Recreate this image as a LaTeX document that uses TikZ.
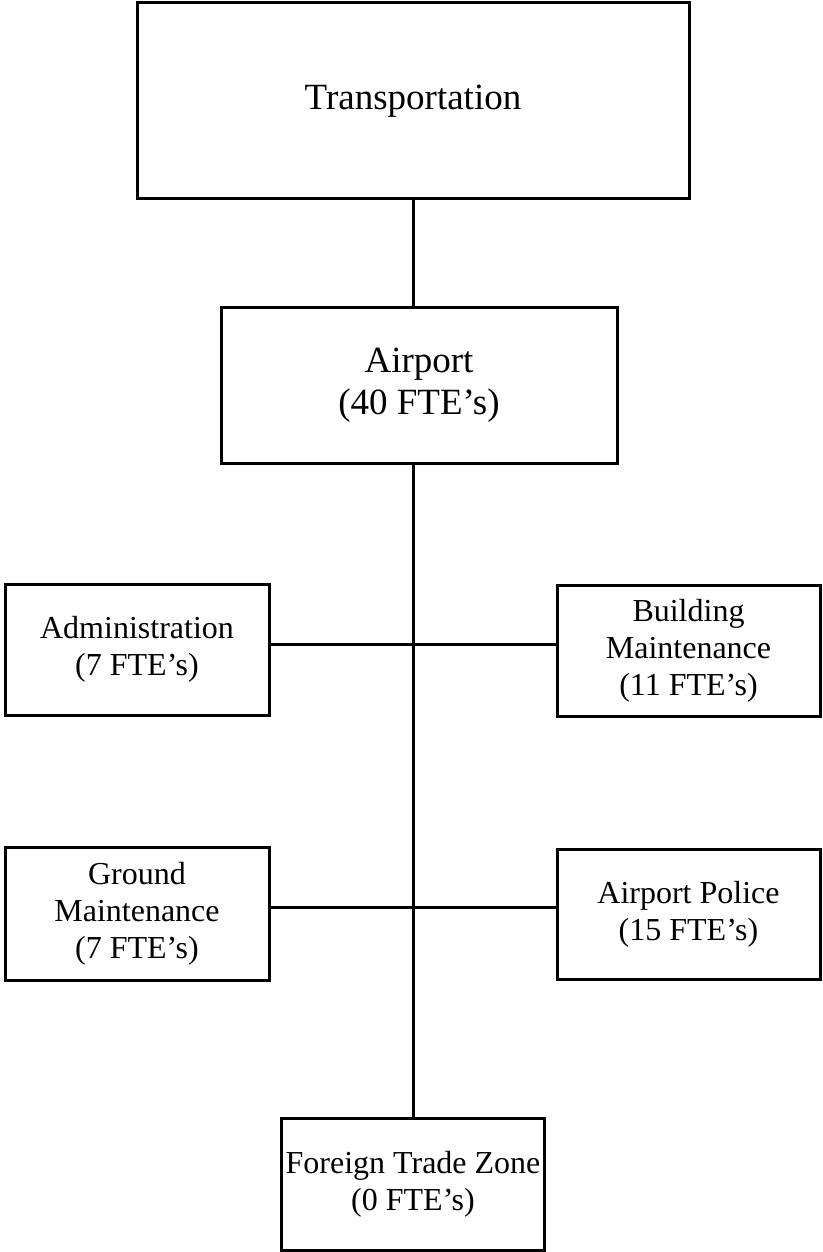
\documentclass[tikz,border=0pt]{standalone}
\usepackage{fontspec}
\setmainfont{Liberation Serif}
\definecolor{linecol}{HTML}{000000}

\begin{document}
\begin{tikzpicture}[x=1pt,y=1pt,line join=miter,
  unit/.style={draw=linecol,line width=3pt,inner sep=0pt,align=center,
    font=\fontsize{32}{37}\selectfont},
  link/.style={draw=linecol,line width=3pt}]

  \useasboundingbox (0,0) rectangle (822,-1252);

  \node[unit,minimum width=552pt,minimum height=196pt,
        font=\fontsize{37}{42}\selectfont] (trans) at (413,-101) {Transportation};
  \node[unit,minimum width=396pt,minimum height=156pt,
        font=\fontsize{37}{42}\selectfont] (airport) at (419,-385) {Airport\\(40 FTE’s)};

  \node[unit,minimum width=264pt,minimum height=131pt] (admin) at (137,-649.5)
    {Administration\\(7 FTE’s)};
  \node[unit,minimum width=263pt,minimum height=131pt] (bldg) at (688.5,-650.5)
    {Building\\Maintenance\\(11 FTE’s)};
  \node[unit,minimum width=264pt,minimum height=133pt] (ground) at (137,-913.5)
    {Ground\\Maintenance\\(7 FTE’s)};
  \node[unit,minimum width=263pt,minimum height=130pt] (police) at (688.5,-914)
    {Airport Police\\(15 FTE’s)};
  \node[unit,minimum width=263pt,minimum height=132pt] (ftz) at (413,-1184)
    {Foreign Trade Zone\\(0 FTE’s)};

  % branch points on the trunk
  \coordinate (jA) at (413,-644);
  \coordinate (jB) at (413,-907);

  \draw[link] (trans.south) -- (trans.south |- airport.north);
  \draw[link] (trans.south |- airport.south) -- (ftz.north);
  \draw[link] (admin.east |- jA) -- (bldg.west |- jA);
  \draw[link] (ground.east |- jB) -- (police.west |- jB);

\end{tikzpicture}
\end{document}
